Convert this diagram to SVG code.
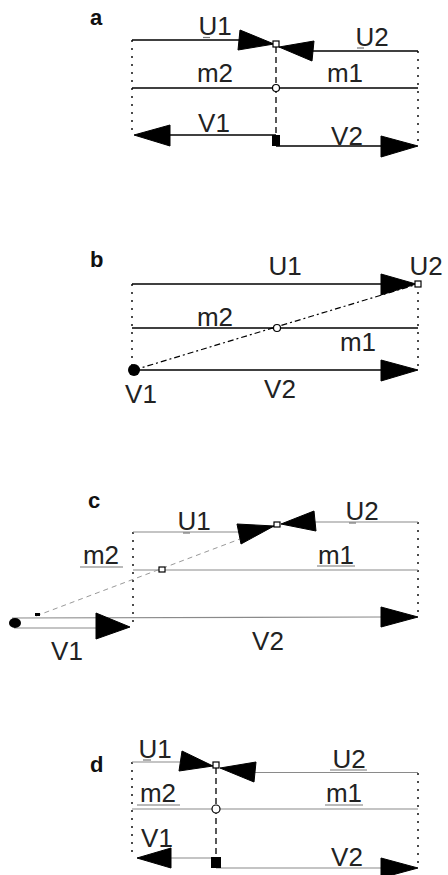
<svg xmlns="http://www.w3.org/2000/svg" width="448" height="875" viewBox="0 0 448 875">
<style>
text{font-family:"Liberation Sans",Arial,sans-serif;font-size:26px;fill:#222;text-anchor:middle}
.pl{font-weight:bold;font-size:22px;text-anchor:start;fill:#111}
.ln{stroke:#000;stroke-width:1.4;fill:none}
.lg{stroke:#8a8a8a;stroke-width:1.1;fill:none}
.dot{stroke:#000;stroke-width:1.4;stroke-dasharray:2 6;fill:none}
.dash{stroke:#000;stroke-width:1.3;stroke-dasharray:6 4;fill:none}
.dd{stroke:#000;stroke-width:1.2;stroke-dasharray:6 3 2 3;fill:none}
.dg{stroke:#999;stroke-width:1;stroke-dasharray:5 4;fill:none}
.ah{fill:#000;stroke:#000;stroke-width:1}
.os{fill:#fff;stroke:#000;stroke-width:1.2}
.ul{stroke:#777;stroke-width:1.2}
</style>

<g id="panel-a">
<text class="pl" x="90" y="25">a</text>
<g id="connectors-a">
<line class="dot" x1="132" y1="40" x2="132" y2="135"/>
<line class="dot" x1="418" y1="51" x2="418" y2="146"/>
<line class="ln" x1="132" y1="40" x2="240" y2="40"/>
<line class="ln" x1="312" y1="51" x2="418" y2="51"/>
<line class="ln" x1="132" y1="88" x2="418" y2="88"/>
<line class="ln" x1="168" y1="135" x2="276" y2="135"/>
<line class="ln" x1="276" y1="146" x2="382" y2="146"/>
<line class="dash" x1="276" y1="47" x2="276" y2="140"/>
<polygon class="ah" points="274,44 240,30 238,50"/>
<polygon class="ah" points="279,47 314,41 312,61"/>
<polygon class="ah" points="134,135 170,125 170,146"/>
<polygon class="ah" points="418,146 381,136 381,157"/>
</g>
<g id="a-U1"><rect class="os" x="273" y="41" width="6" height="6"/><text x="215" y="35">U1</text><line class="ul" x1="203" y1="37.5" x2="210" y2="37.5"/></g>
<g id="a-U2"><text x="372" y="46">U2</text><line class="ul" x1="357" y1="48" x2="364" y2="48"/></g>
<g id="a-m"><circle class="os" cx="276" cy="88" r="3.5"/><text x="215" y="82">m2</text><text x="345" y="82">m1</text></g>
<g id="a-V"><rect x="272" y="135" width="8" height="11" fill="#000"/><text x="214" y="132">V1</text><text x="347" y="145">V2</text></g>
</g>

<g id="panel-b">
<text class="pl" x="90" y="267">b</text>
<g id="connectors-b">
<line class="dot" x1="132" y1="284" x2="132" y2="370"/>
<line class="dot" x1="418" y1="284" x2="418" y2="370"/>
<line class="ln" x1="132" y1="284" x2="382" y2="284"/>
<line class="ln" x1="132" y1="328" x2="418" y2="328"/>
<line class="ln" x1="134" y1="370" x2="382" y2="370"/>
<line class="dd" x1="134" y1="370" x2="418" y2="284"/>
<polygon class="ah" points="416,284 381,274 381,295"/>
<polygon class="ah" points="418,370 381,360 381,381"/>
</g>
<g id="b-U"><rect class="os" x="415" y="281" width="6" height="6"/><text x="285" y="275">U1</text><text x="426" y="275">U2</text></g>
<g id="b-m"><circle class="os" cx="277" cy="328" r="3.5"/><text x="215" y="326">m2</text><text x="358" y="351">m1</text></g>
<g id="b-V"><circle cx="134" cy="370" r="6" fill="#000"/><text x="141" y="403">V1</text><text x="280" y="398">V2</text></g>
</g>

<g id="panel-c">
<text class="pl" x="88" y="508">c</text>
<g id="connectors-c">
<line class="dot" x1="133" y1="532" x2="133" y2="628"/>
<line class="dot" x1="418" y1="522" x2="418" y2="617"/>
<line class="lg" x1="133" y1="532" x2="240" y2="532"/>
<line class="lg" x1="314" y1="522" x2="418" y2="522"/>
<line class="lg" x1="133" y1="570" x2="418" y2="570"/>
<line class="lg" x1="12" y1="618" x2="382" y2="617"/>
<line class="lg" x1="14" y1="628" x2="98" y2="628"/>
<line class="dg" x1="36" y1="616" x2="277" y2="525"/>
<polygon class="ah" points="274,526 237,524 241,544"/>
<polygon class="ah" points="281,524 316,531 314,511"/>
<polygon class="ah" points="418,617 381,607 381,627"/>
<polygon class="ah" points="130,627 96,613 96,639"/>
</g>
<g id="c-U"><rect class="os" x="274" y="522" width="6" height="5"/><text x="194" y="530">U1</text><line class="ul" x1="183" y1="533" x2="190" y2="533"/><text x="362" y="520">U2</text><line class="ul" x1="349" y1="523" x2="356" y2="523"/></g>
<g id="c-m"><rect class="os" x="159" y="567" width="6" height="5"/><text x="101" y="564">m2</text><line class="ul" x1="80" y1="567" x2="123" y2="567"/><text x="336" y="564">m1</text><line class="ul" x1="317" y1="566" x2="355" y2="566"/></g>
<g id="c-V"><ellipse cx="15" cy="623" rx="6" ry="5" fill="#000"/><rect x="35" y="613" width="5" height="3" fill="#000"/><text x="67" y="660">V1</text><text x="268" y="650">V2</text></g>
</g>

<g id="panel-d">
<text class="pl" x="90" y="772">d</text>
<g id="connectors-d">
<line class="dot" x1="132" y1="762" x2="132" y2="858"/>
<line class="dot" x1="418" y1="773" x2="418" y2="868"/>
<line class="lg" x1="132" y1="762" x2="182" y2="762"/>
<line class="lg" x1="254" y1="772.5" x2="418" y2="772.5"/>
<line class="lg" x1="132" y1="809" x2="418" y2="809"/>
<line class="lg" x1="169" y1="858" x2="216" y2="858"/>
<line class="lg" x1="216" y1="868" x2="382" y2="868"/>
<line class="dash" x1="216" y1="768" x2="216" y2="858"/>
<polygon class="ah" points="213,766 182,751 179,771"/>
<polygon class="ah" points="220,768 256,762 254,782"/>
<polygon class="ah" points="137,858 171,848 171,868"/>
<polygon class="ah" points="418,868 381,858 381,878"/>
</g>
<g id="d-U"><rect class="os" x="213" y="762" width="6" height="6"/><text x="155" y="758">U1</text><line class="ul" x1="143" y1="760" x2="151" y2="760"/><text x="349" y="768">U2</text><line class="ul" x1="330" y1="770" x2="367" y2="770"/></g>
<g id="d-m"><circle class="os" cx="216" cy="809" r="4"/><text x="158" y="802">m2</text><line class="ul" x1="137" y1="805" x2="180" y2="805"/><text x="344" y="802">m1</text><line class="ul" x1="325" y1="805" x2="363" y2="805"/></g>
<g id="d-V"><rect x="211" y="857" width="10" height="11" fill="#000"/><text x="157" y="847">V1</text><text x="347" y="866">V2</text></g>
</g>
</svg>
